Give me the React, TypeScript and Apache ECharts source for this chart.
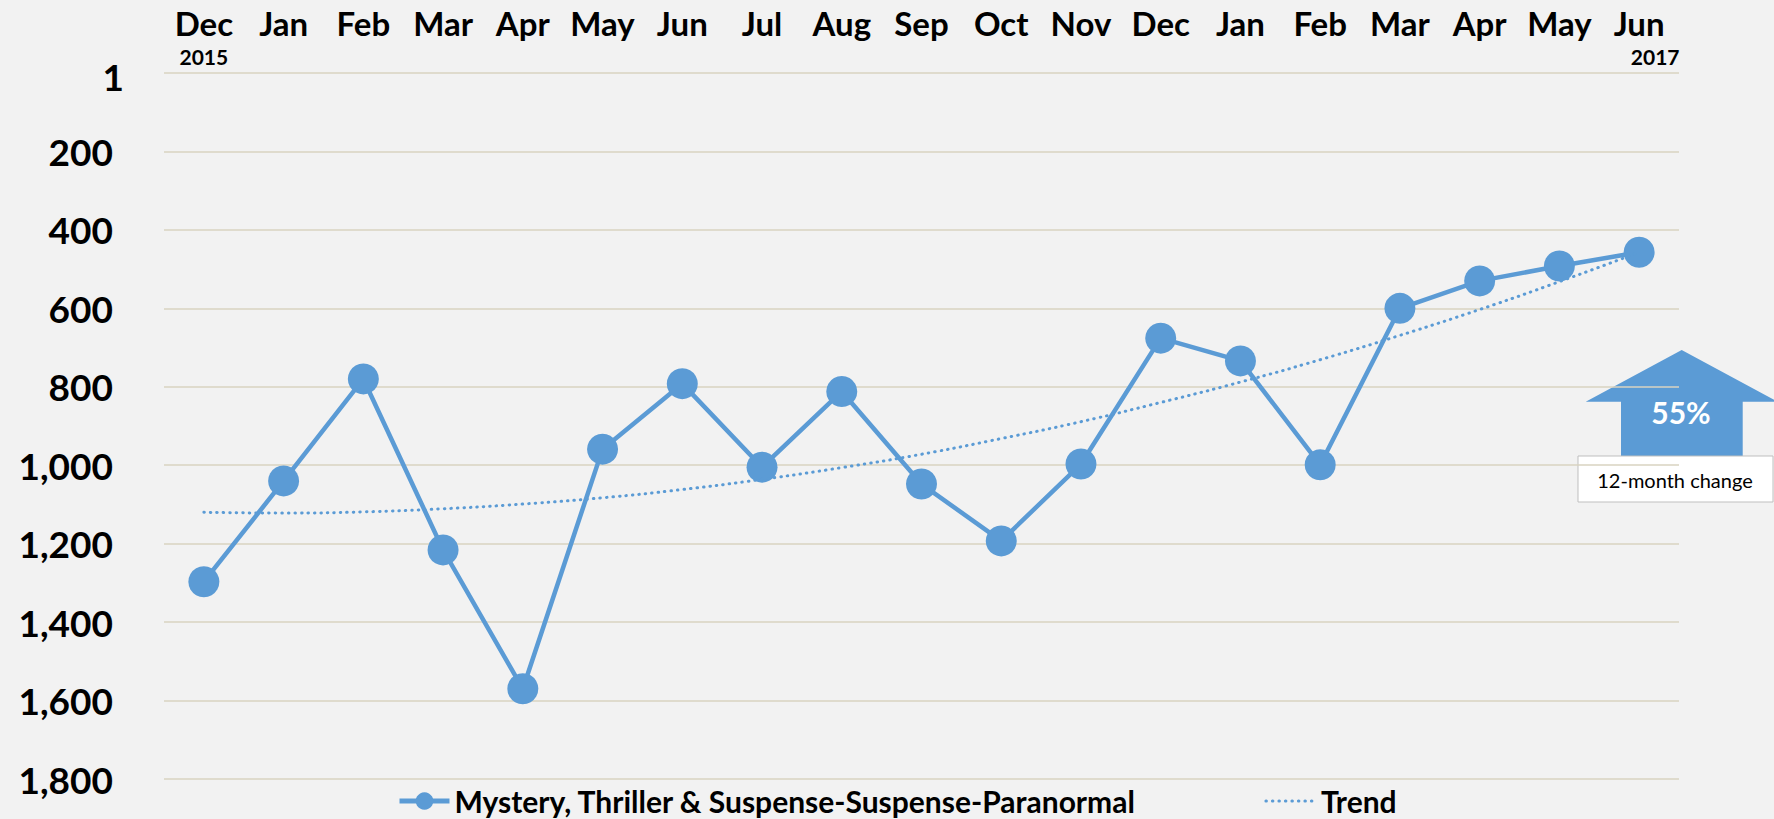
import React, { useEffect, useRef } from "react";
import * as echarts from "echarts";

const months = ["Dec", "Jan", "Feb", "Mar", "Apr", "May", "Jun", "Jul", "Aug", "Sep", "Oct", "Nov", "Dec", "Jan", "Feb", "Mar", "Apr", "May", "Jun"];
const startYear = "2015";
const endYear = "2017";
const rankValues = [1297, 1040, 780, 1216, 1570, 959, 792, 1005, 812, 1048, 1193, 997, 676, 734, 999, 600, 530, 492, 457];
const trendValues = [1120, 1122, 1119, 1111, 1099, 1083, 1062, 1036, 1006, 972, 932, 889, 840, 788, 731, 669, 603, 532, 457];
const yTicks = [0, 200, 400, 600, 800, 1000, 1200, 1400, 1600, 1800];
const seriesName = "Mystery, Thriller & Suspense-Suspense-Paranormal";
const trendName = "Trend";
const changeText = "55%";
const changeLabel = "12-month change";

const BLUE = "#5b9bd5";
const FONT = "Lato";

export default function App() {
  const ref = useRef<HTMLDivElement>(null);
  useEffect(() => {
    if (!ref.current) return;
    const chart = echarts.init(ref.current, undefined, { renderer: "svg" });
    chart.setOption({
      animation: false,
      backgroundColor: "#f2f2f2",
      textStyle: { fontFamily: FONT },
      grid: { left: 164, right: 95, top: 73, bottom: 40, containLabel: false },
      xAxis: {
        type: "category",
        position: "top",
        data: months,
        boundaryGap: true,
        axisLine: { show: false },
        axisTick: { show: false },
        axisLabel: {
          interval: 0,
          margin: 5,
          formatter: (v: string, i: number) => {
            if (i === 0) return `{m|${v}}\n{y|${startYear}}`;
            if (i === months.length - 1) return `{m|${v}}\n{y2|${endYear}}`;
            return `{m|${v}}\n{y| }`;
          },
          rich: {
            m: { fontFamily: FONT, fontWeight: "bold", fontSize: 33, lineHeight: 42, color: "#000" },
            y: { fontFamily: FONT, fontWeight: "bold", fontSize: 21, lineHeight: 24, color: "#000" },
            y2: { fontFamily: FONT, fontWeight: "bold", fontSize: 21, lineHeight: 24, color: "#000", padding: [0, 0, 0, 32] },
          },
        },
      },
      yAxis: {
        type: "value",
        inverse: true,
        min: yTicks[0],
        max: yTicks[yTicks.length - 1],
        interval: 200,
        axisLine: { show: false },
        axisTick: { show: false },
        splitLine: { lineStyle: { color: "#d9d3c1", width: 1.5 } },
        axisLabel: {
          margin: 51,
          fontFamily: FONT,
          fontWeight: "bold",
          fontSize: 37,
          color: "#000",
          formatter: (v: number) => (v === 0 ? "" : v.toLocaleString("en-US")),
        },
      },
      legend: {
        left: 397,
        top: 786,
        padding: 0,
        itemGap: 128,
        itemWidth: 50,
        itemHeight: 22,
        textStyle: { fontFamily: FONT, fontWeight: "bold", fontSize: 30, color: "#000" },
        data: [
          { name: seriesName, lineStyle: { width: 5 } },
          { name: trendName, itemStyle: { opacity: 0 }, lineStyle: { width: 3 } },
        ],
      },
      series: [
        {
          name: seriesName,
          type: "line",
          data: rankValues,
          symbol: "circle",
          symbolSize: 31,
          lineStyle: { color: BLUE, width: 4.5 },
          itemStyle: { color: BLUE },
          z: 2,
        },
        {
          name: trendName,
          type: "line",
          data: trendValues,
          smooth: true,
          symbol: "none",
          lineStyle: { color: BLUE, width: 3, type: [0.5, 6], cap: "round" },
          itemStyle: { color: BLUE },
          z: 3,
        },
      ],
      graphic: [
        {
          type: "text",
          x: 124,
          y: 76,
          style: { text: "1", fontFamily: FONT, fontWeight: "bold", fontSize: 37, fill: "#000", align: "right", verticalAlign: "middle" },
        },
        {
          type: "polygon",
          shape: {
            points: [
              [1681.7, 350],
              [1777.7, 401.7],
              [1742.7, 401.7],
              [1742.7, 470],
              [1621, 470],
              [1621, 401.7],
              [1585.7, 401.7],
            ],
          },
          style: { fill: BLUE },
        },
        {
          type: "text",
          x: 1681,
          y: 412,
          style: { text: changeText, fontFamily: FONT, fontWeight: "bold", fontSize: 30, fill: "#fff", align: "center", verticalAlign: "middle" },
        },
        {
          type: "rect",
          shape: { x: 1578, y: 456, width: 195, height: 46 },
          style: { fill: "#fff", stroke: "#bfbfbf", lineWidth: 1 },
        },
        {
          type: "text",
          x: 1675,
          y: 480,
          style: { text: changeLabel, fontFamily: FONT, fontSize: 20, fill: "#000", align: "center", verticalAlign: "middle" },
        },
      ],
    });
    return () => chart.dispose();
  }, []);
  return <div ref={ref} style={{ position: "absolute", left: 0, top: 0, width: 1774, height: 819 }} />;
}
